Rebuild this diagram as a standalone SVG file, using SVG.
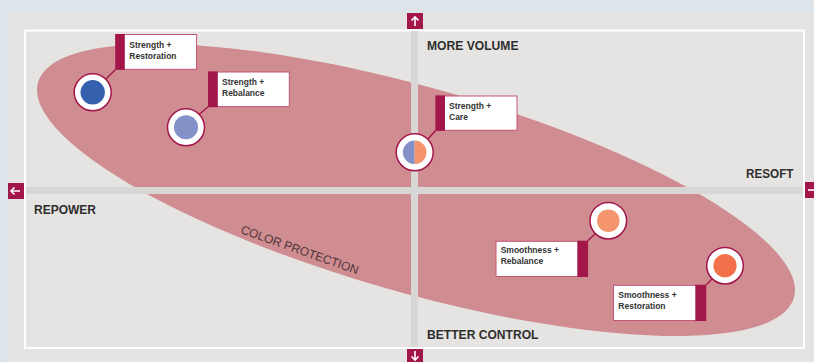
<svg xmlns="http://www.w3.org/2000/svg" width="814" height="362" viewBox="0 0 814 362">
<style>
.ax{font-family:"Liberation Sans",Arial,sans-serif;font-weight:bold;font-size:13px;fill:#2e2e2e;}
.lb{font-family:"Liberation Sans",Arial,sans-serif;font-weight:bold;font-size:8.5px;fill:#333333;}
.box{fill:#ffffff;stroke:#c45476;stroke-width:1;}
.band{fill:#a3164a;}
.ring{fill:#ffffff;stroke:#a3164a;stroke-width:1.5;}
.conn{stroke:#a3164a;stroke-width:1.5;fill:none;}
.abox{fill:#a3164a;}
.arr{fill:none;stroke:#ffffff;stroke-width:1.6;}
.axis{fill:#d9d6d6;}
</style>
<rect x="0" y="0" width="814" height="362" fill="#dde4ea"/>
<rect x="8" y="13" width="806" height="349" fill="#e5e4e2"/>
<rect x="25" y="30.5" width="779" height="317.5" fill="none" stroke="#ffffff" stroke-width="2"/>
<g id="ellipse">
<ellipse cx="416" cy="190" rx="393" ry="102.6" transform="rotate(15.9 416 190)" fill="#cf8d92"/>
<text transform="translate(240,233) rotate(19.5)" font-family="Liberation Sans, Arial, sans-serif" font-size="12" fill="#4f3539" textLength="124" lengthAdjust="spacing">COLOR PROTECTION</text>
</g>
<g id="axes">
<rect class="axis" x="411" y="31" width="7" height="316"/>
<rect class="axis" x="26" y="187" width="777" height="7"/>
<rect class="abox" x="407" y="13" width="16" height="16"/>
<path class="arr" d="M415 26 V17.5 M411.5 20.5 L415 17 L418.5 20.5"/>
<rect class="abox" x="407" y="349" width="16" height="16"/>
<path class="arr" d="M415 351 V359.5 M411.5 356.5 L415 360 L418.5 356.5"/>
<rect class="abox" x="8" y="183" width="16" height="16"/>
<path class="arr" d="M20 191 H11.5 M14.5 187.5 L11 191 L14.5 194.5"/>
<rect class="abox" x="805" y="182" width="16" height="16"/>
<path class="arr" d="M808 190 H816"/>
</g>
<g id="axis-labels">
<text class="ax" x="427" y="50" textLength="91.5" lengthAdjust="spacingAndGlyphs">MORE VOLUME</text>
<text class="ax" x="34" y="214" textLength="62" lengthAdjust="spacingAndGlyphs">REPOWER</text>
<text class="ax" x="746" y="178" textLength="47.5" lengthAdjust="spacingAndGlyphs">RESOFT</text>
<text class="ax" x="427" y="339" textLength="111.5" lengthAdjust="spacingAndGlyphs">BETTER CONTROL</text>
</g>
<g id="connectors">
<line class="conn" x1="105.5" y1="79.5" x2="116" y2="69"/>
<line class="conn" x1="199" y1="114.5" x2="208.5" y2="106.5"/>
<line class="conn" x1="427.5" y1="139.5" x2="436" y2="130"/>
<line class="conn" x1="587.5" y1="241" x2="595.5" y2="233.5"/>
<line class="conn" x1="706" y1="285" x2="712.5" y2="278.5"/>
</g>
<g id="strength-restoration">
<circle class="ring" cx="92.7" cy="92.3" r="18.5"/>
<circle cx="92.7" cy="92.3" r="12.2" fill="#3560ae"/>
<rect class="box" x="115.8" y="34.5" width="80.8" height="34.8"/>
<rect class="band" x="115.3" y="34" width="9.5" height="35.8"/>
<text class="lb" x="129.3" y="47.7">Strength +</text>
<text class="lb" x="129.3" y="58.7">Restoration</text>
</g>
<g id="strength-rebalance">
<circle class="ring" cx="186" cy="127.3" r="18.5"/>
<circle cx="186" cy="127.3" r="12" fill="#8490c8"/>
<rect class="box" x="208.5" y="72" width="80.8" height="34.6"/>
<rect class="band" x="208" y="71.5" width="9.8" height="35.6"/>
<text class="lb" x="222" y="85">Strength +</text>
<text class="lb" x="222" y="96">Rebalance</text>
</g>
<g id="strength-care">
<circle class="ring" cx="414.7" cy="152.3" r="18.5"/>
<path d="M414.7 140.5 A11.8 11.8 0 0 0 414.7 164.1 Z" fill="#8490c8"/>
<path d="M414.7 140.5 A11.8 11.8 0 0 1 414.7 164.1 Z" fill="#f4956e"/>
<rect class="box" x="436" y="96" width="81" height="34.3"/>
<rect class="band" x="435.5" y="95.5" width="9.5" height="35.3"/>
<text class="lb" x="449" y="109">Strength +</text>
<text class="lb" x="449" y="120">Care</text>
</g>
<g id="smoothness-rebalance">
<circle class="ring" cx="608.3" cy="220.7" r="18.3"/>
<circle cx="608.3" cy="220.7" r="11.3" fill="#f4956e"/>
<rect class="box" x="496" y="241.3" width="91.7" height="35.2"/>
<rect class="band" x="577.3" y="240.8" width="10.7" height="36.2"/>
<text class="lb" x="500.7" y="253.3">Smoothness +</text>
<text class="lb" x="500.7" y="264.3">Rebalance</text>
</g>
<g id="smoothness-restoration">
<circle class="ring" cx="725" cy="265.7" r="18.3"/>
<circle cx="725" cy="265.7" r="11.6" fill="#f2714a"/>
<rect class="box" x="613.5" y="285.3" width="92.5" height="35.2"/>
<rect class="band" x="695.3" y="284.8" width="10.7" height="36.2"/>
<text class="lb" x="618.3" y="297.5">Smoothness +</text>
<text class="lb" x="618.3" y="308.5">Restoration</text>
</g>
</svg>
